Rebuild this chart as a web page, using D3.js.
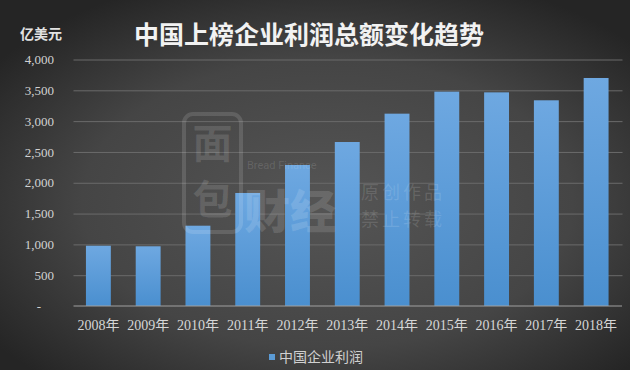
<!DOCTYPE html>
<html><head><meta charset="utf-8">
<script src="https://cdn.jsdelivr.net/npm/d3@7"></script>
<style>
html,body{margin:0;padding:0;background:#2a2a2a;}
svg{display:block;}
</style>
</head><body>
<svg id="chart" width="630" height="370"></svg>
<script>
const years = ["2008年","2009年","2010年","2011年","2012年","2013年","2014年","2015年","2016年","2017年","2018年"];
const profits = [978, 969, 1303, 1834, 2288, 2661, 3121, 3478, 3467, 3338, 3700];
const yTicks = [0, 500, 1000, 1500, 2000, 2500, 3000, 3500, 4000];
const title = "中国上榜企业利润总额变化趋势";
const unitLabel = "亿美元";
const seriesName = "中国企业利润";

const W = 630, H = 370;
const svg = d3.select("#chart");
const defs = svg.append("defs");

const bg = defs.append("radialGradient").attr("id","bg")
  .attr("cx","52%").attr("cy","55%").attr("r","65%");
bg.append("stop").attr("offset","0%").attr("stop-color","#555555");
bg.append("stop").attr("offset","60%").attr("stop-color","#454545");
bg.append("stop").attr("offset","100%").attr("stop-color","#252525");

const barG = defs.append("linearGradient").attr("id","barg")
  .attr("x1",0).attr("y1",0).attr("x2",0).attr("y2",1);
barG.append("stop").attr("offset","0%").attr("stop-color","#6ea8e1");
barG.append("stop").attr("offset","100%").attr("stop-color","#4a8fcf");

svg.append("rect").attr("width",W).attr("height",H).attr("fill","url(#bg)");

const x = d3.scaleBand().domain(years).range([73.5, 621]).paddingInner(0.5).paddingOuter(0.25);
const y = d3.scaleLinear().domain([0, 4000]).range([306, 59.5]);

// gridlines
const grid = svg.append("g").attr("transform","translate(73.5,0)")
  .call(d3.axisLeft(y).tickValues(yTicks.filter(d => d > 0)).tickSize(-549).tickFormat(""));
grid.select(".domain").remove();
grid.selectAll("line").attr("stroke","#6b6b6b").attr("stroke-width",1);

// bars
svg.append("g").selectAll("rect").data(profits).join("rect")
  .attr("x",(d,i) => x(years[i]))
  .attr("y",d => y(d))
  .attr("width",x.bandwidth())
  .attr("height",d => y(0) - y(d))
  .attr("fill","url(#barg)");

// baseline
svg.append("line").attr("x1",73.5).attr("x2",622).attr("y1",y(0)).attr("y2",y(0))
  .attr("stroke","#a0a0a0").attr("stroke-width",1);

// y axis labels
const yAxis = svg.append("g").attr("transform","translate(54,0)")
  .call(d3.axisLeft(y).tickValues(yTicks).tickSize(0).tickPadding(0)
    .tickFormat(d => d === 0 ? "-" : d3.format(",")(d)));
yAxis.select(".domain").remove();
yAxis.selectAll("text").attr("fill","#d2d2d2")
  .style("font-family","'Liberation Serif','Noto Sans CJK SC',serif").style("font-size","13px")
  .attr("dx", d => d === 0 ? -13 : 0);

// x axis labels
const xAxis = svg.append("g").attr("transform",`translate(0,${y(0)})`)
  .call(d3.axisBottom(x).tickSize(0).tickPadding(14));
xAxis.select(".domain").remove();
xAxis.selectAll("text").attr("fill","#d6d6d6")
  .style("font-family","'Liberation Serif','Noto Sans CJK SC',serif").style("font-size","14px");

// watermark
const wm = svg.append("g").attr("pointer-events","none");
const wmFill = "rgba(255,255,255,0.13)";
wm.append("rect").attr("x",184).attr("y",114).attr("width",57).attr("height",118).attr("rx",9)
  .attr("fill","none").attr("stroke",wmFill).attr("stroke-width",4);
const logo = wm.append("text").attr("text-anchor","middle").attr("fill",wmFill)
  .style("font-family","'Noto Sans CJK SC'").style("font-weight","bold").style("font-size","40px");
logo.append("tspan").attr("x",212.5).attr("y",158).text("面");
logo.append("tspan").attr("x",212.5).attr("y",214).text("包");
wm.append("text").attr("x",247).attr("y",169).attr("fill",wmFill)
  .style("font-family","Roboto").style("font-size","11px").text("Bread Finance");
wm.append("text").attr("x",244).attr("y",228).attr("fill",wmFill)
  .style("font-family","'Noto Sans CJK SC'").style("font-weight","900").style("font-size","46px").text("财经");
wm.append("text").attr("x",361).attr("y",199).attr("fill",wmFill)
  .style("font-family","'Noto Sans CJK SC'").style("font-size","18px").style("letter-spacing","3px").text("原创作品");
wm.append("text").attr("x",361).attr("y",226).attr("fill",wmFill)
  .style("font-family","'Noto Sans CJK SC'").style("font-size","18px").style("letter-spacing","3px").text("禁止转载");

// title & unit
svg.append("text").attr("x",134).attr("y",44).attr("fill","#f2f2f2")
  .style("font-family","'Noto Sans CJK SC'").style("font-weight","bold").style("font-size","25px").text(title);
svg.append("text").attr("x",20).attr("y",39).attr("fill","#e2e2e2")
  .style("font-family","'Noto Sans CJK SC'").style("font-weight","bold").style("font-size","14px").text(unitLabel);

// legend
const lg = svg.append("g");
lg.append("rect").attr("x",269).attr("y",354).attr("width",6).attr("height",6).attr("fill","#5b9bd5");
lg.append("text").attr("x",279).attr("y",357).attr("dominant-baseline","central").attr("fill","#d0d0d0")
  .style("font-family","'Liberation Serif','Noto Sans CJK SC',serif").style("font-size","14px").text(seriesName);
</script>
</body></html>
